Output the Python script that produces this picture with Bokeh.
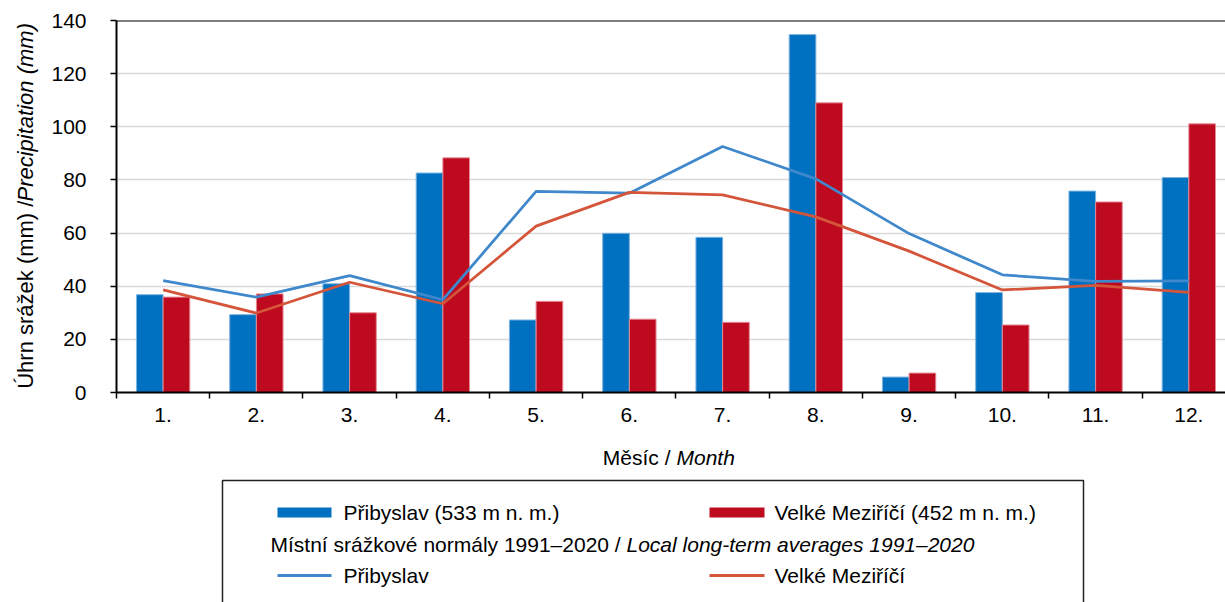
import numpy as np
from bokeh.plotting import figure
from bokeh.models import Range1d, FixedTicker, Span
from bokeh.layouts import row, column
from bokeh.embed import file_html
from bokeh.resources import INLINE
from bokeh.core.properties import value

# ---------------- data ----------------
months = ["1.", "2.", "3.", "4.", "5.", "6.", "7.", "8.", "9.", "10.", "11.", "12."]
pribyslav = [36.8, 29.3, 40.9, 82.6, 27.3, 59.9, 58.4, 134.7, 5.8, 37.6, 75.8, 80.9]
velke_mezirici = [35.9, 37.1, 30.0, 88.3, 34.3, 27.6, 26.4, 109.0, 7.3, 25.4, 71.7, 101.1]
normal_pribyslav = [42.1, 35.9, 44.0, 34.9, 75.7, 75.0, 92.6, 80.4, 59.8, 44.3, 41.8, 42.0]
normal_velke = [38.6, 29.9, 41.5, 33.4, 62.6, 75.3, 74.4, 66.1, 53.2, 38.6, 40.3, 37.7]
y_ticks = [0, 20, 40, 60, 80, 100, 120, 140]

name_p_bar = "Přibyslav (533 m n. m.)"
name_v_bar = "Velké Meziříčí (452 m n. m.)"
name_p_line = "Přibyslav"
name_v_line = "Velké Meziříčí"
normals_regular = "Místní srážkové normály 1991–2020 /"
normals_italic = "Local long-term averages 1991–2020"
ytitle_regular = "Úhrn srážek (mm) /"
ytitle_italic = "Precipitation (mm)"
xtitle_regular = "Měsíc /"
xtitle_italic = "Month"

# ---------------- style ----------------
FONT = "Liberation Sans"
FS = "21px"
BLUE = "#0070C0"
RED = "#BE0A1E"
LBLUE = "#3F88CC"
ORANGE = "#D4553A"
TXT = "#000000"

x = np.arange(1, len(months) + 1)
bw = 0.286

# ---------------- main chart ----------------
main = figure(width=1177, height=440, x_range=Range1d(0.5, 12.393), y_range=Range1d(0, 140),
              output_backend="svg", toolbar_location=None,
              min_border_left=67, min_border_right=0, min_border_top=20, min_border_bottom=48)
main.outline_line_color = None
main.xgrid.visible = False
main.ygrid.ticker = FixedTicker(ticks=y_ticks[1:-1])
main.ygrid.grid_line_color = "#D9D9D9"
main.ygrid.grid_line_width = 1.5

main.vbar(x=x - bw / 2, top=pribyslav, width=bw, bottom=0,
          fill_color=BLUE, line_color="#7DB3E0", line_width=1)
main.vbar(x=x + bw / 2, top=velke_mezirici, width=bw, bottom=0,
          fill_color=RED, line_color="#E58A95", line_width=1)
main.line(x, normal_pribyslav, line_color=LBLUE, line_width=2.75)
main.line(x, normal_velke, line_color=ORANGE, line_width=2.75)

main.add_layout(Span(location=y_ticks[-1], dimension="width", line_color="black", line_width=2))

xa = main.xaxis[0]
xa.ticker = FixedTicker(ticks=list(x), minor_ticks=list(np.arange(0.5, len(months) + 1, 1.0)))
xa.major_label_overrides = {int(i): m for i, m in zip(x, months)}
xa.major_tick_line_color = None
xa.minor_tick_line_color = "black"
xa.minor_tick_line_width = 1.5
xa.minor_tick_out = 6
xa.minor_tick_in = 0
xa.axis_line_color = "black"
xa.axis_line_width = 2
xa.major_label_standoff = 9
xa.major_label_text_font = FONT
xa.major_label_text_font_size = FS
xa.major_label_text_color = TXT

ya = main.yaxis[0]
ya.ticker = FixedTicker(ticks=y_ticks)
ya.minor_tick_line_color = None
ya.major_tick_out = 6
ya.major_tick_in = 0
ya.major_tick_line_width = 1.5
ya.major_tick_line_color = "black"
ya.axis_line_color = "black"
ya.axis_line_width = 2
ya.major_label_standoff = 24
ya.major_label_text_font = FONT
ya.major_label_text_font_size = FS
ya.major_label_text_color = TXT

# ---------------- y title panel ----------------
yl = figure(width=48, height=440, x_range=Range1d(0, 48), y_range=Range1d(0, 440),
            output_backend="svg", toolbar_location=None, min_border=0,
            x_axis_location=None, y_axis_location=None)
yl.outline_line_color = None
yl.grid.visible = False
# both parts anchored at their upper end (text reads bottom to top)
yl.text(x=[25], y=[227], text=[ytitle_regular], angle=np.pi / 2, text_align="right",
        text_baseline="middle", text_font=value(FONT), text_font_size="22px", text_color=TXT)
yl.text(x=[25], y=[437], text=[ytitle_italic], angle=np.pi / 2, text_align="right",
        text_baseline="middle", text_font=value(FONT), text_font_size="22px", text_color=TXT,
        text_font_style="italic")

# ---------------- bottom panel: x title + legend ----------------
bt = figure(width=1225, height=162, x_range=Range1d(0, 1225), y_range=Range1d(162, 0),
            output_backend="svg", toolbar_location=None, min_border=0,
            x_axis_location=None, y_axis_location=None)
bt.outline_line_color = None
bt.grid.visible = False

def txt(xp, yp, s, italic=False, align="left"):
    bt.text(x=[xp], y=[yp], text=[s], text_align=align, text_baseline="middle",
            text_font=value(FONT), text_font_size=FS, text_color=TXT,
            text_font_style="italic" if italic else "normal")

# x-axis title
txt(670, 17, xtitle_regular, align="right")
txt(676, 17, xtitle_italic, italic=True)

# legend box
bt.quad(left=[222], right=[1083], top=[40], bottom=[260], fill_color=None,
        line_color="#222222", line_width=1.5)

# row 1: bars
bt.quad(left=[277], right=[331], top=[67], bottom=[77], fill_color=BLUE, line_color=None)
bt.quad(left=[709], right=[764], top=[67], bottom=[77], fill_color=RED, line_color=None)
txt(343, 72, name_p_bar)
txt(774, 72, name_v_bar)

# row 2: normals heading
txt(270, 104, normals_regular)
txt(626, 104, normals_italic, italic=True)

# row 3: lines
bt.line(x=[277, 331], y=[135, 135], line_color=LBLUE, line_width=3)
bt.line(x=[709, 764], y=[135, 135], line_color=ORANGE, line_width=3)
txt(343, 135, name_p_line)
txt(774, 135, name_v_line)

layout = column(row(yl, main), bt)
open("out.html", "w").write(file_html(layout, INLINE))
